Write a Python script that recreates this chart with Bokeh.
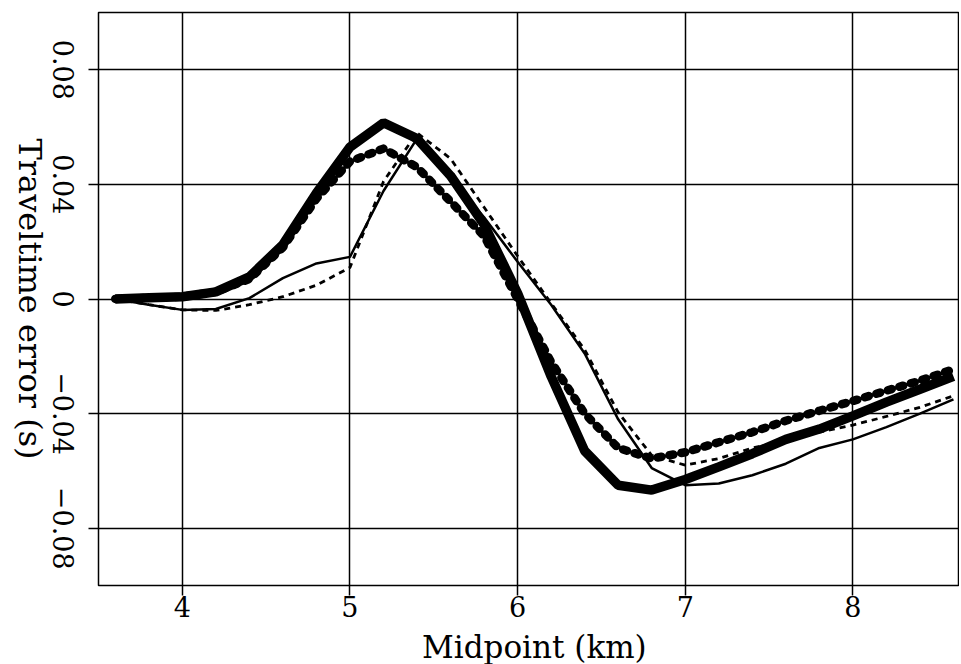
import math
from bokeh.plotting import figure
from bokeh.models import Range1d, FixedTicker, CustomLabelingPolicy
from bokeh.layouts import row, column
from bokeh.core.properties import value
from bokeh.embed import file_html
from bokeh.resources import INLINE

# ---- data ----
midpoint_km = [3.6, 3.8, 4.0, 4.2, 4.4, 4.6, 4.8, 5.0, 5.2, 5.4, 5.6, 5.8, 6.0,
               6.2, 6.4, 6.6, 6.8, 7.0, 7.2, 7.4, 7.6, 7.8, 8.0, 8.2, 8.4, 8.6]

err_thick_solid = [0.0, 0.0004, 0.0008, 0.0025, 0.0077, 0.019, 0.037, 0.053, 0.0615,
                   0.056, 0.043, 0.026, 0.002, -0.027, -0.053, -0.065, -0.0667,
                   -0.063, -0.0586, -0.054, -0.049, -0.0454, -0.0408, -0.036,
                   -0.0315, -0.027]

err_thick_dotted = [0.0, 0.0004, 0.0008, 0.0025, 0.007, 0.018, 0.035, 0.048, 0.0525,
                    0.046, 0.034, 0.022, 0.0, -0.022, -0.040, -0.052, -0.0557,
                    -0.0535, -0.050, -0.0465, -0.0425, -0.039, -0.0356, -0.032,
                    -0.0285, -0.0245]

err_thin_solid = [0.0, -0.002, -0.0038, -0.0035, 0.0003, 0.0073, 0.0124, 0.0147, 0.0377,
                  0.056, 0.042, 0.0285, 0.013, -0.002, -0.019, -0.042, -0.059,
                  -0.065, -0.0644, -0.0615, -0.0575, -0.052, -0.049, -0.0447,
                  -0.040, -0.035]

err_thin_dashed = [0.0, -0.002, -0.0038, -0.004, -0.002, 0.0008, 0.0048, 0.011, 0.041,
                   0.058, 0.049, 0.032, 0.015, -0.0015, -0.0177, -0.0396, -0.0546,
                   -0.058, -0.0557, -0.052, -0.0494, -0.0465, -0.044, -0.041,
                   -0.0378, -0.0338]

x_ticks = [4, 5, 6, 7, 8]
y_ticks = [-0.08, -0.04, 0.0, 0.04, 0.08]
y_tick_labels = ["\u22120.08", "\u22120.04", "0", "0.04", "0.08"]
x_title = "Midpoint (km)"
y_title = "Traveltime error (s)"

FONT = "DejaVu Serif"
X0, X1 = 3.5, 8.63
Y0, Y1 = -0.1, 0.1

LEFT_W = 88           # strip with rotated y labels
MAIN_W = 871
MAIN_H = 627
TITLE_H = 37
TOP, BOTTOM = 12, 42

x_range = Range1d(X0, X1)
y_range = Range1d(Y0, Y1)

# ---- main plot ----
p = figure(width=MAIN_W, height=MAIN_H, output_backend="svg", toolbar_location=None,
           x_range=x_range, y_range=y_range,
           min_border_left=10, min_border_right=1, min_border_top=TOP,
           min_border_bottom=BOTTOM)

p.outline_line_color = "black"
p.outline_line_width = 1.5
p.background_fill_color = "white"
p.border_fill_color = "white"

p.line(midpoint_km, err_thin_solid, line_color="black", line_width=2.5)
p.line(midpoint_km, err_thin_dashed, line_color="black", line_width=2.8,
       line_dash="6 5")
p.line(midpoint_km, err_thick_dotted, line_color="black", line_width=8.5,
       line_dash="4 8", line_cap="round")
p.line(midpoint_km, err_thick_solid, line_color="black", line_width=9.5)

p.xaxis.ticker = FixedTicker(ticks=x_ticks)
p.yaxis.ticker = FixedTicker(ticks=y_ticks)
# y tick labels are drawn rotated in the left strip; the axis itself only draws ticks
p.yaxis.major_label_overrides = {v: "" for v in y_ticks}
p.yaxis.major_label_policy = CustomLabelingPolicy(code="""
    for (const i of Array.from(indices)) indices.unset(i)
    return indices
""")
p.yaxis.major_label_standoff = 0

for ax in (p.xaxis[0], p.yaxis[0]):
    ax.axis_line_color = None
    ax.major_tick_line_color = "black"
    ax.major_tick_line_width = 1.5
    ax.major_tick_out = 10
    ax.major_tick_in = 0
    ax.minor_tick_line_color = None
    ax.major_label_text_font = FONT
    ax.major_label_text_color = "black"

p.xaxis.major_label_text_font_size = "27px"
p.xaxis.major_label_standoff = 0

p.grid.grid_line_color = "black"
p.grid.grid_line_width = 1.5
p.grid.grid_line_alpha = 1.0

# ---- left strip: rotated y tick labels and y title (reading top to bottom) ----
lf = figure(width=LEFT_W, height=MAIN_H, output_backend="svg", toolbar_location=None,
            x_range=Range1d(0, LEFT_W), y_range=y_range,
            x_axis_location=None, y_axis_location=None,
            min_border_left=0, min_border_right=0, min_border_top=TOP,
            min_border_bottom=BOTTOM)
lf.outline_line_color = None
lf.grid.visible = False
lf.background_fill_color = "white"
lf.border_fill_color = "white"

lf.text(x=[63] * len(y_ticks), y=y_ticks, text=y_tick_labels,
        angle=-math.pi / 2, text_align="center", text_baseline="middle",
        text_font=value(FONT), text_font_size=value("27px"), text_color="black")
lf.text(x=[29], y=[0.0], text=[y_title],
        angle=-math.pi / 2, text_align="center", text_baseline="middle",
        text_font=value(FONT), text_font_size=value("32px"), text_color="black")

# ---- bottom strip: x title ----
bt = figure(width=LEFT_W + MAIN_W, height=TITLE_H, output_backend="svg",
            toolbar_location=None, x_range=x_range, y_range=Range1d(0, TITLE_H),
            x_axis_location=None, y_axis_location=None,
            min_border_left=LEFT_W + 10, min_border_right=1,
            min_border_top=0, min_border_bottom=0)
bt.outline_line_color = None
bt.grid.visible = False
bt.background_fill_color = "white"
bt.border_fill_color = "white"
bt.text(x=[6.1], y=[0], text=[x_title], text_align="center", text_baseline="bottom",
        text_font=value(FONT), text_font_size=value("31px"), text_color="black")

layout = column(row(lf, p), bt)
open("out.html", "w").write(file_html(layout, INLINE))
